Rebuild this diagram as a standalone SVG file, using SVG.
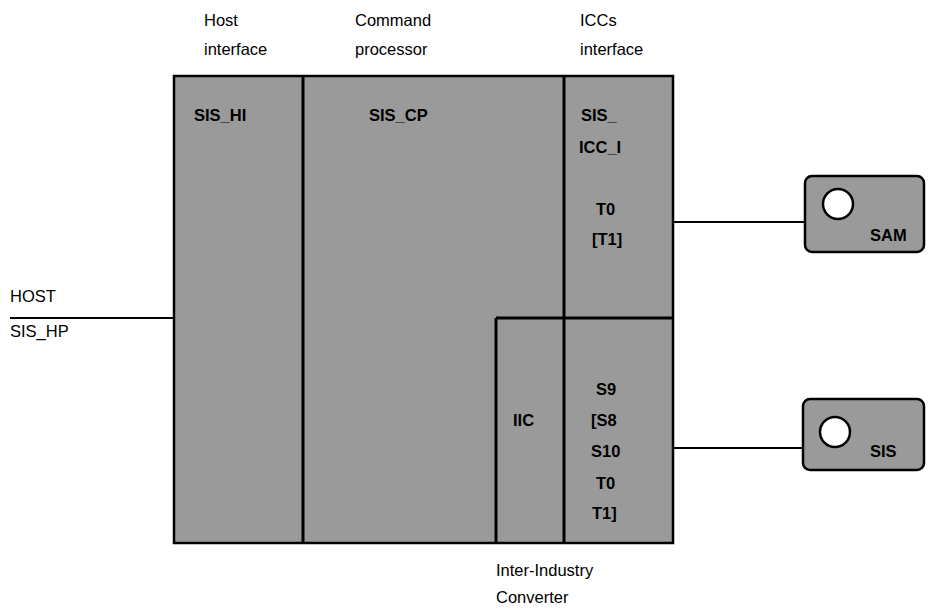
<svg xmlns="http://www.w3.org/2000/svg" width="930" height="608" viewBox="0 0 930 608">
<style>
.lbl{font-family:"Liberation Sans",Arial,sans-serif;font-size:16.5px;fill:#000}
.in{font-family:"Liberation Sans",Arial,sans-serif;font-size:16.5px;font-weight:bold;fill:#000}
.box{fill:#9a9a9a;stroke:#000;stroke-width:2.5}
.div{stroke:#000;stroke-width:3;fill:none}
.con{stroke:#000;stroke-width:2;fill:none}
</style>
<rect width="930" height="608" fill="#fff"/>
<g id="labels">
<text class="lbl" x="204" y="26">Host</text>
<text class="lbl" x="204" y="55">interface</text>
<text class="lbl" x="355" y="26">Command</text>
<text class="lbl" x="355" y="55">processor</text>
<text class="lbl" x="580" y="26">ICCs</text>
<text class="lbl" x="580" y="55">interface</text>
<text class="lbl" x="496" y="576">Inter-Industry</text>
<text class="lbl" x="496" y="603">Converter</text>
</g>
<g id="main">
<rect class="box" x="174" y="76" width="499" height="467"/>
<line class="div" x1="303" y1="76" x2="303" y2="543"/>
<line class="div" x1="564" y1="76" x2="564" y2="543"/>
<line class="div" x1="496" y1="318" x2="673" y2="318"/>
<line class="div" x1="496" y1="318" x2="496" y2="543"/>
<text class="in" x="194" y="121">SIS_HI</text>
<text class="in" x="369" y="121">SIS_CP</text>
<text class="in" x="581" y="121">SIS_</text>
<text class="in" x="579" y="153">ICC_I</text>
<text class="in" x="596" y="215">T0</text>
<text class="in" x="592" y="245">[T1]</text>
<text class="in" x="513" y="426">IIC</text>
<text class="in" x="596" y="395">S9</text>
<text class="in" x="591" y="426">[S8</text>
<text class="in" x="591" y="457">S10</text>
<text class="in" x="596" y="489">T0</text>
<text class="in" x="592" y="519">T1]</text>
</g>
<g id="host">
<text class="lbl" x="10" y="302">HOST</text>
<text class="lbl" x="10" y="337">SIS_HP</text>
</g>
<g id="sam">
<rect class="box" x="805" y="176" width="119" height="76" rx="7"/>
<circle cx="838" cy="204" r="15" fill="#fff" stroke="#000" stroke-width="2.5"/>
<text class="in" x="870" y="241">SAM</text>
</g>
<g id="sis">
<rect class="box" x="803" y="399" width="121" height="71" rx="7"/>
<circle cx="835" cy="432" r="15" fill="#fff" stroke="#000" stroke-width="2.5"/>
<text class="in" x="870" y="457">SIS</text>
</g>
<g id="connectors">
<line class="con" x1="10" y1="318" x2="174" y2="318"/>
<line class="con" x1="673" y1="222" x2="805" y2="222"/>
<line class="con" x1="673" y1="448" x2="803" y2="448"/>
</g>
</svg>
